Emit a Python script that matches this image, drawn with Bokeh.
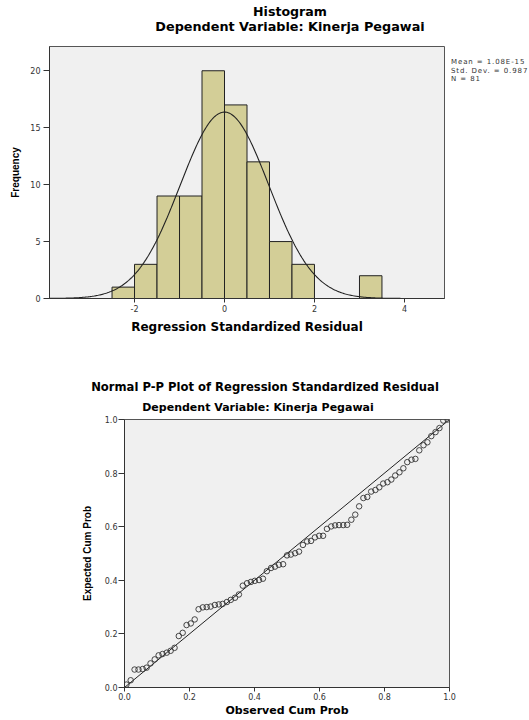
import numpy as np
from bokeh.plotting import figure
from bokeh.models import Range1d, FixedTicker, ColumnDataSource, Div
from bokeh.layouts import row
from bokeh.embed import file_html
from bokeh.resources import INLINE

# ---------------- Histogram data ----------------
bin_left = [-2.5, -2.0, -1.5, -1.0, -0.5, 0.0, 0.5, 1.0, 1.5, 3.0]
bin_right = [-2.0, -1.5, -1.0, -0.5, 0.0, 0.5, 1.0, 1.5, 2.0, 3.5]
frequency = [1, 3, 9, 9, 20, 17, 12, 5, 3, 2]
resid_mean = 1.08e-15
resid_sd = 0.987
n_obs = 81
stats_lines = ["Mean = 1.08E-15", "Std. Dev. = 0.987", "N = 81"]
hist_x_ticks = [-2, 0, 2, 4]
hist_x_tick_labels = ["-2", "0", "2", "4"]
hist_y_ticks = [0, 5, 10, 15, 20]
hist_y_tick_labels = ["0", "5", "10", "15", "20"]

# ---------------- P-P plot data ----------------
observed_cum_prob = [
    0.006, 0.019, 0.031, 0.043, 0.056, 0.068, 0.080, 0.093, 0.105, 0.117,
    0.130, 0.142, 0.154, 0.167, 0.179, 0.191, 0.204, 0.216, 0.228, 0.241,
    0.253, 0.265, 0.278, 0.290, 0.302, 0.315, 0.327, 0.340, 0.352, 0.364,
    0.377, 0.389, 0.401, 0.414, 0.426, 0.438, 0.451, 0.463, 0.475, 0.488,
    0.500, 0.512, 0.525, 0.537, 0.549, 0.562, 0.574, 0.586, 0.599, 0.611,
    0.623, 0.636, 0.648, 0.660, 0.673, 0.685, 0.698, 0.710, 0.722, 0.735,
    0.747, 0.759, 0.772, 0.784, 0.796, 0.809, 0.821, 0.833, 0.846, 0.858,
    0.870, 0.883, 0.895, 0.907, 0.920, 0.932, 0.944, 0.957, 0.969, 0.981,
    0.994]
expected_cum_prob = [
    0.011, 0.027, 0.067, 0.067, 0.069, 0.074, 0.090, 0.105, 0.120, 0.125,
    0.130, 0.137, 0.148, 0.192, 0.204, 0.233, 0.239, 0.254, 0.292, 0.299,
    0.300, 0.302, 0.308, 0.310, 0.312, 0.319, 0.327, 0.335, 0.347, 0.380,
    0.389, 0.394, 0.398, 0.401, 0.406, 0.434, 0.446, 0.451, 0.458, 0.460,
    0.493, 0.496, 0.501, 0.507, 0.532, 0.545, 0.547, 0.560, 0.566, 0.566,
    0.592, 0.601, 0.605, 0.606, 0.606, 0.607, 0.626, 0.645, 0.676, 0.707,
    0.711, 0.731, 0.737, 0.747, 0.761, 0.766, 0.776, 0.791, 0.803, 0.818,
    0.841, 0.850, 0.853, 0.885, 0.904, 0.915, 0.938, 0.953, 0.968, 0.996,
    1.000]
pp_ticks = [0.0, 0.2, 0.4, 0.6, 0.8, 1.0]
pp_tick_labels = ["0.0", "0.2", "0.4", "0.6", "0.8", "1.0"]

hist_title = "Histogram"
hist_subtitle = "Dependent Variable: Kinerja Pegawai"
pp_title = "Normal P-P Plot of Regression Standardized Residual"
pp_subtitle = "Dependent Variable: Kinerja Pegawai"

# ---------------- styling helpers ----------------
BG = "#F0F0F0"
DARK = "#333333"
TITLE_FONT = "DejaVu Sans"
YLAB_FONT = "Liberation Sans"


def style_axis(ax, ticks, labels, tick_out, standoff):
    ax.ticker = FixedTicker(ticks=ticks)
    ax.major_label_overrides = {t: l for t, l in zip(ticks, labels)}
    ax.major_label_text_font = "DejaVu Sans"
    ax.major_label_text_font_size = "8px"
    ax.major_label_text_color = DARK
    ax.axis_line_color = DARK
    ax.major_tick_line_color = DARK
    ax.minor_tick_line_color = None
    ax.major_tick_in = 0
    ax.major_tick_out = tick_out
    ax.major_label_standoff = standoff
    ax.axis_label_text_font_style = "bold"
    ax.axis_label_text_color = "black"


def title_block(height, items):
    """items: (text, font_size_px, top_px, centre_x_px)"""
    parts = []
    for text, fs, top, cxp in items:
        parts.append(
            '<div style="position:absolute;left:0;width:%dpx;top:%.1fpx;'
            'text-align:center;font-size:%.1fpx;line-height:1;white-space:nowrap">%s</div>'
            % (2 * cxp, top, fs, text))
    html = ('<div style="position:relative;width:529px;height:%dpx;'
            'font-family:\'DejaVu Sans\';font-weight:bold;color:black">' % height
            + "".join(parts) + '</div>')
    return Div(text=html, width=529, height=height, margin=(0, 0, 0, 0))


# ================= Histogram =================
hx0, hx1 = -3.89, 4.89
hy0, hy1 = 0.0, 22.13

top_titles = title_block(42, [
    (hist_title, 12.6, 16.6 - 0.846 * 12.6, 290),
    (hist_subtitle, 12.8, 31.4 - 0.846 * 12.8, 290),
])

p1 = figure(frame_width=395, frame_height=252,
            x_range=Range1d(hx0, hx1), y_range=Range1d(hy0, hy1),
            output_backend="svg", toolbar_location=None,
            min_border_left=49, min_border_right=7,
            min_border_top=4, min_border_bottom=42)
p1.background_fill_color = BG
p1.border_fill_color = "white"
p1.outline_line_color = "#555555"
p1.xgrid.visible = False
p1.ygrid.visible = False

hist_src = ColumnDataSource(dict(left=bin_left, right=bin_right, top=frequency,
                                 bottom=[0] * len(frequency)))
p1.quad(left="left", right="right", top="top", bottom="bottom", source=hist_src,
        fill_color="#D3CE97", line_color="#222222", line_width=1)

bw = bin_right[0] - bin_left[0]
cx = np.linspace(hx0, hx1, 400)
cy = n_obs * bw * np.exp(-0.5 * ((cx - resid_mean) / resid_sd) ** 2) / (resid_sd * np.sqrt(2 * np.pi))
p1.line(cx, cy, line_color="#222222", line_width=1.1)

style_axis(p1.xaxis[0], hist_x_ticks, hist_x_tick_labels, 4, 2)
p1.xaxis.axis_label = "Regression Standardized Residual"
p1.xaxis.axis_label_text_font = TITLE_FONT
p1.xaxis.axis_label_text_font_size = "12px"
p1.xaxis.axis_label_standoff = 5

style_axis(p1.yaxis[0], hist_y_ticks, hist_y_tick_labels, 6, 3)
p1.yaxis.axis_label = "Frequency"
p1.yaxis.axis_label_text_font = YLAB_FONT
p1.yaxis.axis_label_text_font_size = "10px"
p1.yaxis.axis_label_standoff = 6

stats_html = "<br>".join(stats_lines)
stats_div = Div(text=('<div style="padding-top:16.4px;font-family:\'DejaVu Sans\';'
                      'font-size:7px;line-height:8.3px;letter-spacing:0.9px;'
                      'color:#333333;white-space:nowrap">' + stats_html + '</div>'),
                width=78, height=100, margin=(0, 0, 0, 0))

hist_block = row(p1, stats_div, spacing=0)

# ================= P-P plot =================
pp_titles = title_block(73, [
    (pp_title, 11.6, 52 - 0.846 * 11.6, 265),
    (pp_subtitle, 11.0, 71 - 0.846 * 11.0, 258),
])

p2 = figure(frame_width=325, frame_height=268,
            x_range=Range1d(0, 1), y_range=Range1d(0, 1),
            output_backend="svg", toolbar_location=None,
            min_border_left=124, min_border_right=80,
            min_border_top=6, min_border_bottom=0)
p2.background_fill_color = BG
p2.border_fill_color = "white"
p2.outline_line_color = "#555555"
p2.xgrid.visible = False
p2.ygrid.visible = False

p2.line([pp_ticks[0], pp_ticks[-1]], [pp_ticks[0], pp_ticks[-1]],
        line_color="#222222", line_width=1)
pp_src = ColumnDataSource(dict(x=observed_cum_prob, y=expected_cum_prob))
p2.scatter("x", "y", source=pp_src, size=5.5, marker="circle",
           fill_color=None, line_color="#333333", line_width=0.9)

style_axis(p2.xaxis[0], pp_ticks, pp_tick_labels, 4, 1)
p2.xaxis.axis_label = "Observed Cum Prob"
p2.xaxis.axis_label_text_font = TITLE_FONT
p2.xaxis.axis_label_text_font_size = "11px"
p2.xaxis.axis_label_standoff = 1

style_axis(p2.yaxis[0], pp_ticks, pp_tick_labels, 6, 1)
p2.yaxis.axis_label = "Expected Cum Prob"
p2.yaxis.axis_label_text_font = YLAB_FONT
p2.yaxis.axis_label_text_font_size = "10px"
p2.yaxis.axis_label_standoff = 9

open("out.html", "w").write(file_html([top_titles, hist_block, pp_titles, p2], INLINE))
